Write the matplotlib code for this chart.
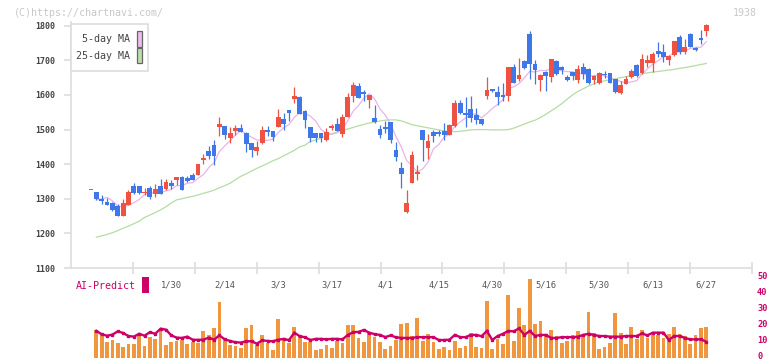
import matplotlib.pyplot as plt
from matplotlib.patches import Rectangle
from matplotlib.transforms import ScaledTranslation
import numpy as np

W, H = 772, 361
nan = np.nan

# daily candles (Jan -> 6/27)
opens = [1325, 1320, 1300, 1291, 1289, 1280, 1251, 1283, 1337, 1336,
         1318, 1331, 1313, 1337, 1328, 1346, 1354, 1363, 1360, 1369,
         1369, 1413, 1438, 1455, 1507, 1510, 1476, 1496, 1505, 1490,
         1461, 1439, 1461, 1499, 1496, 1508, 1531, 1557, 1588, 1594,
         1554, 1507, 1490, 1490, 1470, 1505, 1516, 1487, 1536, 1597,
         1626, 1609, 1586, 1533, 1502, 1507, 1522, 1441, 1389, 1262,
         1346, 1373, 1499, 1447, 1493, 1493, 1496, 1484, 1510, 1577,
         1548, 1560, 1542, 1531, 1597, 1617, 1609, 1600, 1597, 1681,
         1646, 1698, 1776, 1689, 1643, 1666, 1652, 1698, 1681, 1652,
         1666, 1643, 1681, 1675, 1643, 1635, 1660, 1664, 1646, 1606,
         1632, 1652, 1687, 1664, 1692, 1692, 1727, 1724, 1701, 1715,
         1767, 1724, 1776, 1735, 1765, 1785]
highs = [1325, 1320, 1311, 1303, 1292, 1284, 1300, 1326, 1346, 1338,
         1332, 1337, 1343, 1357, 1357, 1355, 1364, 1366, 1366, 1375,
         1400, 1429, 1452, 1470, 1537, 1511, 1507, 1513, 1516, 1494,
         1462, 1467, 1510, 1510, 1497, 1560, 1548, 1557, 1623, 1596,
         1556, 1507, 1490, 1490, 1505, 1516, 1533, 1545, 1606, 1637,
         1634, 1614, 1600, 1571, 1513, 1525, 1522, 1464, 1406, 1325,
         1438, 1398, 1499, 1487, 1499, 1499, 1519, 1516, 1585, 1586,
         1594, 1597, 1562, 1531, 1652, 1617, 1626, 1634, 1681, 1689,
         1707, 1700, 1785, 1701, 1660, 1668, 1704, 1700, 1684, 1657,
         1667, 1687, 1692, 1678, 1657, 1666, 1669, 1664, 1646, 1640,
         1655, 1675, 1690, 1718, 1715, 1724, 1753, 1747, 1715, 1756,
         1773, 1762, 1779, 1738, 1788, 1805]
lows = [1325, 1297, 1284, 1281, 1265, 1250, 1250, 1283, 1315, 1314,
        1310, 1300, 1306, 1313, 1325, 1328, 1340, 1325, 1348, 1354,
        1369, 1401, 1415, 1398, 1481, 1473, 1462, 1484, 1493, 1435,
        1422, 1427, 1458, 1481, 1467, 1508, 1499, 1525, 1577, 1545,
        1505, 1464, 1464, 1464, 1468, 1499, 1495, 1479, 1536, 1580,
        1591, 1583, 1562, 1520, 1476, 1490, 1461, 1409, 1331, 1260,
        1346, 1354, 1409, 1415, 1464, 1481, 1470, 1484, 1508, 1546,
        1507, 1522, 1516, 1513, 1588, 1608, 1571, 1583, 1583, 1634,
        1641, 1676, 1646, 1632, 1611, 1611, 1637, 1658, 1660, 1640,
        1643, 1635, 1646, 1632, 1632, 1633, 1649, 1635, 1605, 1603,
        1632, 1650, 1652, 1660, 1681, 1666, 1710, 1695, 1687, 1712,
        1718, 1718, 1738, 1727, 1747, 1770]
closes = [1325, 1300, 1295, 1283, 1268, 1250, 1287, 1319, 1318, 1316,
          1321, 1306, 1328, 1313, 1348, 1338, 1363, 1325, 1352, 1355,
          1400, 1418, 1424, 1424, 1516, 1484, 1490, 1505, 1494, 1459,
          1442, 1450, 1499, 1494, 1479, 1536, 1516, 1548, 1597, 1545,
          1528, 1476, 1476, 1477, 1493, 1510, 1496, 1536, 1594, 1629,
          1591, 1603, 1600, 1522, 1484, 1502, 1470, 1421, 1372, 1288,
          1427, 1376, 1470, 1467, 1482, 1488, 1485, 1513, 1577, 1548,
          1543, 1533, 1528, 1516, 1614, 1612, 1594, 1595, 1681, 1635,
          1658, 1678, 1689, 1672, 1658, 1655, 1704, 1661, 1673, 1644,
          1655, 1675, 1661, 1635, 1655, 1664, 1658, 1635, 1609, 1629,
          1646, 1669, 1655, 1704, 1701, 1718, 1718, 1710, 1713, 1756,
          1724, 1739, 1739, 1730, 1759, 1802]

ma5 = [nan, 1297, 1300, 1304, 1294.2, 1279.2, 1276.6, 1281.4, 1288.4, 1298.0,
       1312.2, 1316.0, 1317.8, 1316.8, 1323.2, 1326.6, 1338.0, 1337.4, 1345.2, 1346.6,
       1359.0, 1370.0, 1389.8, 1404.2, 1436.4, 1453.2, 1467.6, 1483.8, 1497.8, 1486.4,
       1478.0, 1470.0, 1468.8, 1468.8, 1472.8, 1491.6, 1504.8, 1514.6, 1535.2, 1548.4,
       1546.8, 1538.8, 1524.4, 1500.4, 1490.0, 1486.4, 1490.4, 1502.4, 1525.8, 1553.0,
       1569.2, 1590.6, 1603.4, 1589.0, 1560.0, 1542.2, 1515.6, 1479.8, 1449.8, 1410.6,
       1395.6, 1376.8, 1386.6, 1405.6, 1444.4, 1456.6, 1478.4, 1487.0, 1509.0, 1522.2,
       1533.2, 1542.8, 1545.8, 1533.6, 1546.8, 1560.6, 1572.8, 1586.2, 1619.2, 1623.4,
       1632.6, 1649.4, 1668.2, 1666.4, 1671.0, 1670.4, 1675.6, 1670.0, 1670.2, 1667.4,
       1667.4, 1661.6, 1661.6, 1654.0, 1656.2, 1658.0, 1654.6, 1649.4, 1644.2, 1639.0,
       1635.4, 1637.6, 1641.6, 1660.6, 1675.0, 1689.4, 1699.2, 1710.2, 1712.0, 1723.0,
       1724.2, 1728.4, 1734.2, 1737.6, 1738.2, 1753.8]
ma25 = [nan, 1189, 1193, 1197, 1202, 1208, 1215, 1221, 1228, 1235,
        1246, 1253, 1260, 1268, 1277, 1288, 1297, 1300, 1304, 1307,
        1311, 1316, 1320, 1325, 1332, 1338, 1345, 1355, 1365, 1372,
        1380, 1388, 1395, 1402, 1410, 1416, 1424, 1432, 1440, 1450,
        1455, 1466, 1470, 1475, 1482, 1488, 1493, 1497, 1502, 1506,
        1511, 1515, 1519, 1522, 1525, 1527, 1528, 1528, 1525, 1520,
        1514, 1511, 1508, 1505, 1502, 1499, 1496, 1495, 1494, 1495,
        1497, 1499, 1500, 1500, 1500, 1499, 1499, 1499, 1500, 1504,
        1510, 1516, 1522, 1527, 1535, 1544, 1554, 1564, 1575, 1588,
        1600, 1610, 1618, 1626, 1632, 1637, 1641, 1644, 1647, 1650,
        1653, 1656, 1659, 1661, 1664, 1666, 1668, 1670, 1672, 1674,
        1677, 1679, 1682, 1685, 1688, 1691]

volume = [nan, 17.4, 14.3, 10.1, 11.1, 9.2, 6.7, 8.6, 8.6, 13.6,
          7.4, 13.0, 11.8, 16.8, 8.0, 9.9, 10.5, 11.1, 8.6, 9.9,
          9.2, 16.8, 14.3, 18.7, 35.0, 11.1, 8.0, 7.4, 6.1, 18.7,
          20.6, 8.0, 14.3, 9.2, 4.8, 24.3, 11.1, 9.2, 19.3, 13.6,
          9.9, 9.9, 4.8, 5.5, 8.0, 6.1, 10.5, 9.2, 20.6, 20.6,
          12.4, 9.9, 15.5, 13.0, 9.9, 5.5, 7.4, 11.1, 21.2, 21.8,
          13.6, 25.0, 10.5, 14.9, 9.9, 5.5, 6.7, 4.8, 10.5, 6.1,
          7.4, 15.5, 6.7, 6.1, 35.6, 5.5, 11.8, 8.6, 39.4, 10.5,
          31.2, 20.6, 49.5, 21.2, 23.1, 14.9, 17.4, 13.6, 9.2, 10.5,
          14.3, 16.8, 14.3, 28.7, 15.5, 5.5, 6.7, 9.2, 28.1, 15.5,
          8.6, 19.3, 11.8, 17.4, 12.4, 14.3, 14.3, 12.4, 14.9, 19.3,
          14.9, 13.6, 8.6, 14.3, 18.7, 19.3]
ai_predict = [nan, 16.8, 14.7, 13.8, 14.5, 16.5, 15.5, 13.6, 13.2, 15.0,
              13.8, 16.0, 15.0, 18.2, 17.6, 14.0, 12.6, 12.4, 13.2, 11.3,
              11.2, 11.3, 12.6, 11.3, 14.0, 11.5, 10.5, 9.7, 9.5, 10.3,
              10.3, 8.8, 10.9, 10.5, 10.3, 11.3, 11.8, 11.0, 15.7, 13.5,
              12.8, 11.1, 11.8, 11.8, 11.5, 11.8, 11.8, 11.5, 14.3, 16.0,
              16.2, 17.4, 15.7, 14.8, 14.3, 12.9, 14.0, 12.8, 12.4, 12.4,
              12.4, 12.9, 12.9, 12.9, 12.9, 11.1, 11.1, 11.3, 14.3, 12.9,
              12.9, 14.3, 14.3, 13.5, 16.8, 11.1, 13.6, 15.0, 16.8, 16.5,
              18.4, 14.3, 16.8, 13.6, 14.3, 14.3, 12.4, 12.4, 12.9, 12.9,
              12.9, 13.2, 14.3, 15.0, 14.3, 13.6, 13.6, 13.2, 13.2, 13.2,
              13.6, 13.6, 13.6, 15.2, 14.0, 15.7, 15.7, 15.7, 11.1, 13.6,
              13.6, 12.4, 11.5, 11.5, 11.5, 10.0]

date_labels = ['1/30', '2/14', '3/3', '3/17', '4/1', '4/15',
               '4/30', '5/16', '5/30', '6/13', '6/27']
date_pos = [15, 25, 35, 45, 55, 65, 75, 85, 95, 105, 115]
ai_ticks = [0, 10, 20, 30, 40, 50]

UP = '#ef5242'
DOWN = '#4077e8'
GRID = '#dddddd'
MAGENTA = '#cc0066'
MONO = 'DejaVu Sans Mono'

x = np.arange(len(closes))
xlim = (-3.74, 123.55)


def fx(px):
    return px / W


def fy(py):
    return 1 - py / H


fig = plt.figure(figsize=(W / 100, H / 100), dpi=100)

# volume / AI panel (drawn first so the date labels sit on top)
bx = fig.add_axes([fx(71), fy(357.7), 681 / W, 79.7 / H])
bx.patch.set_visible(False)
bx.set_xlim(*xlim)
bx.set_ylim(0, 50)
bx.bar(x, volume, width=0.7, color='#f0963e', lw=0)
bx.plot(x, ai_predict, color=MAGENTA, lw=1.7, marker='s', ms=1.6,
        solid_joinstyle='miter')
for s in bx.spines.values():
    s.set_visible(False)
bx.set_xticks([])
bx.set_yticks([])
# right-hand scale of the AI panel, written as text so "0" stays inside
lift = ScaledTranslation(0, 1.2 / 72, fig.dpi_scale_trans)
for v in ai_ticks:
    bx.text(1.0, v, str(v), transform=bx.get_yaxis_transform() + lift,
            fontfamily=MONO, fontweight='bold', fontsize=6.2, color=MAGENTA,
            ha='left', va='center')
for t in bx.texts:
    t.set_x(1.0 + 5 / 681)

# main candle chart
ax = fig.add_axes([fx(71), fy(268), 681 / W, 245.7 / H])
ax.patch.set_visible(False)
ax.set_xlim(*xlim)
ax.set_ylim(1100, 1810)

ax.plot(x, ma25, color='#b5dca5', lw=0.9, zorder=1)
ax.plot(x, ma5, color='#eab4ea', lw=0.9, zorder=1)

for i in range(len(closes)):
    o, h, l, c = opens[i], highs[i], lows[i], closes[i]
    col = UP if c >= o else DOWN
    ax.vlines(i, l, h, color=col, lw=0.9, zorder=2)
    body = max(abs(c - o), 3)
    ax.bar(i, body, bottom=min(o, c), width=0.9, color=col, lw=0, zorder=3)

for s in ['top', 'right']:
    ax.spines[s].set_visible(False)
for s in ['left', 'bottom']:
    ax.spines[s].set_color(GRID)
    ax.spines[s].set_linewidth(1.2)

ax.set_yticks(range(1100, 1801, 100))
ax.tick_params(axis='y', length=5, width=1.2, color=GRID, pad=6,
               labelsize=6, labelcolor='#444444')
for t in ax.get_yticklabels():
    t.set_fontfamily(MONO)
    t.set_fontweight('bold')

# separator ticks on the x axis (11 equal parts) + date labels between
sep = [xlim[0] + k * (xlim[1] - xlim[0]) / 11 for k in range(1, 12)]
ax.set_xticks(sep, minor=True)
ax.tick_params(axis='x', which='minor', length=8, width=1.2, color=GRID,
               direction='inout')
ax.set_xticks(date_pos)
ax.set_xticklabels(date_labels, fontfamily=MONO, fontsize=6.3, color='#555555')
ax.tick_params(axis='x', which='major', length=0, pad=9)

# header texts
fig.text(fx(14), fy(12.5), '(C)https://chartnavi.com/', fontfamily=MONO,
         fontsize=7.2, color='#c8c8c8', va='center', ha='left')
fig.text(fx(757), fy(12.5), '1938', fontfamily=MONO, fontsize=7.2,
         color='#c8c8c8', va='center', ha='right')

# legend box
fig.add_artist(Rectangle((fx(70.7), fy(71)), (148 - 70.7) / W, 47 / H,
                         transform=fig.transFigure, facecolor='white',
                         edgecolor=GRID, lw=1.2, zorder=10))
fig.text(fx(130), fy(39.5), '5-day MA', fontfamily=MONO, fontsize=7.2,
         color='#444444', ha='right', va='center', zorder=11)
fig.text(fx(130), fy(56), '25-day MA', fontfamily=MONO, fontsize=7.2,
         color='#444444', ha='right', va='center', zorder=11)
fig.add_artist(Rectangle((fx(136.7), fy(46.5)), 5.6 / W, 15.5 / H,
                         transform=fig.transFigure, facecolor='#eebbee',
                         edgecolor='#666666', lw=0.9, zorder=11))
fig.add_artist(Rectangle((fx(136.7), fy(63.3)), 5.6 / W, 15 / H,
                         transform=fig.transFigure, facecolor='#bbddaa',
                         edgecolor='#666666', lw=0.9, zorder=11))

# AI-Predict label
fig.text(fx(76), fy(286), 'AI-Predict', fontfamily=MONO, fontsize=7.2,
         color=MAGENTA, ha='left', va='center')
fig.add_artist(Rectangle((fx(142.3), fy(292.7)), 6.4 / W, 15.4 / H,
                         transform=fig.transFigure, facecolor=MAGENTA,
                         lw=0))

fig.savefig('out.png', dpi=100)
